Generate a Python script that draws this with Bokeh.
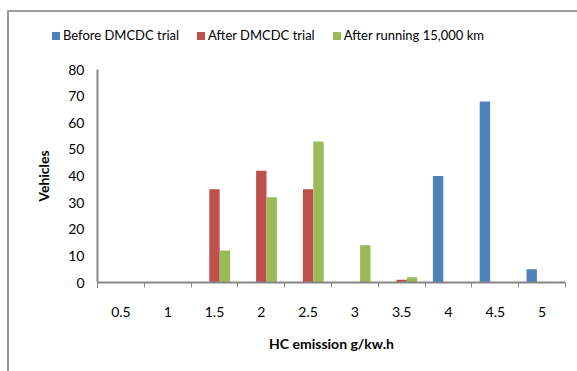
from bokeh.plotting import figure
from bokeh.layouts import column
from bokeh.models import ColumnDataSource, FixedTicker, Range1d, Div
from bokeh.embed import file_html
from bokeh.resources import INLINE

categories = ["0.5", "1", "1.5", "2", "2.5", "3", "3.5", "4", "4.5", "5"]
before_trial = [0, 0, 0, 0, 0, 0, 0, 40, 68, 5]
after_trial = [0, 0, 35, 42, 35, 0, 1, 0, 0, 0]
after_15000 = [0, 0, 12, 32, 53, 14, 2, 0, 0, 0]
series_names = ["Before DMCDC trial", "After DMCDC trial", "After running 15,000 km"]
series_colors = ["#4F81BD", "#C0504D", "#9BBB59"]
y_ticks = [0, 10, 20, 30, 40, 50, 60, 70, 80]

FONT = "Lato"
FS = "14px"
n = len(categories)
centers = [i + 0.5 for i in range(n)]
bw = 1 / 4.5

# ---- legend strip (HTML text) ----
items = "".join(
    f'<span style="display:inline-block;width:8px;height:8px;background:{c};'
    f'margin-right:3px;vertical-align:middle"></span>'
    f'<span style="margin-right:18px;vertical-align:middle">{name}</span>'
    for name, c in zip(series_names, series_colors))
legend_div = Div(text=f'<div style="padding:14px 0 0 43px;white-space:nowrap;line-height:17px;'
                      f'font-family:{FONT};font-size:13px;color:#000">{items}</div>',
                 width=568, height=45, margin=0)

# ---- main chart ----
p = figure(width=568, height=314, output_backend="svg", toolbar_location=None,
           x_range=Range1d(0, n), y_range=Range1d(0, 80),
           min_border_left=88, min_border_right=12, min_border_top=12, min_border_bottom=89)
p.margin = 0
p.outline_line_color = None
p.grid.grid_line_color = None
p.background_fill_color = "white"
p.border_fill_color = "white"

for k, vals in enumerate([before_trial, after_trial, after_15000]):
    src = ColumnDataSource(dict(x=[c + (k - 1) * bw for c in centers], top=vals))
    p.vbar(x="x", top="top", width=bw, bottom=0, source=src,
           fill_color=series_colors[k], line_color=None)

xt = FixedTicker(ticks=centers, minor_ticks=list(range(n + 1)))
p.xaxis.ticker = xt
p.xaxis.major_label_overrides = {c: lab for c, lab in zip(centers, categories)}
p.xaxis.major_tick_line_color = None
p.xaxis.minor_tick_line_color = "#868686"
p.xaxis.minor_tick_out = 5
p.xaxis.minor_tick_in = 0
p.xaxis.axis_line_color = "#868686"
p.xaxis.axis_line_width = 2
p.xaxis.major_label_standoff = 18
p.xaxis.axis_label = "HC emission g/kw.h"
p.xaxis.axis_label_standoff = 15

p.yaxis.ticker = FixedTicker(ticks=y_ticks)
p.yaxis.major_tick_line_color = None
p.yaxis.minor_tick_line_color = None
p.yaxis.axis_line_color = "#868686"
p.yaxis.axis_line_width = 2
p.yaxis.major_label_standoff = 7
p.yaxis.axis_label = "Vehicles"
p.yaxis.axis_label_standoff = 13

for ax in [p.xaxis, p.yaxis]:
    ax.major_label_text_font = FONT
    ax.major_label_text_font_size = FS
    ax.major_label_text_color = "#000000"
    ax.axis_label_text_font = FONT
    ax.axis_label_text_font_size = FS
    ax.axis_label_text_font_style = "bold"
    ax.axis_label_text_color = "#000000"

layout = column(legend_div, p, spacing=0)
layout.styles = {"margin-left": "7px", "margin-top": "10px",
                 "border-left": "2px solid #9a9a9a", "border-top": "2px solid #9a9a9a",
                 "background-color": "white"}

open("out.html", "w").write(file_html(layout, INLINE))
